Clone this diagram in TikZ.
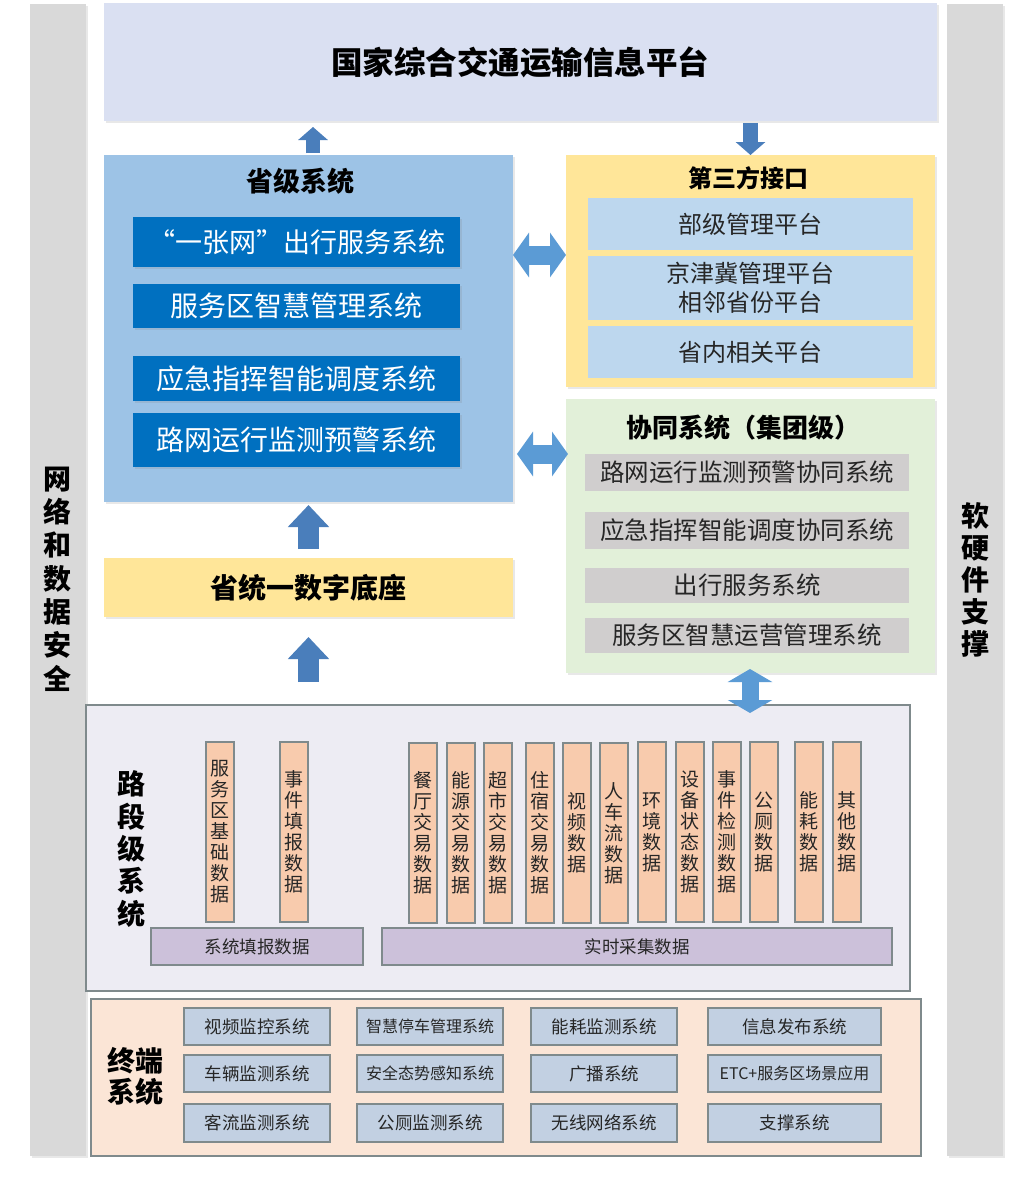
\documentclass[tikz,border=0pt]{standalone}
\usepackage{fontspec}
\setmainfont{Noto Sans CJK SC}
\usetikzlibrary{arrows.meta,shadows}
\definecolor{barGray}{HTML}{D9D9D9}
\definecolor{topFill}{HTML}{DAE0F2}
\definecolor{provBlue}{HTML}{9DC3E6}
\definecolor{darkBlue}{HTML}{0070C0}
\definecolor{yel}{HTML}{FFE699}
\definecolor{lightBlue}{HTML}{BDD7EE}
\definecolor{grn}{HTML}{E2F0D9}
\definecolor{gbox}{HTML}{D0CECE}
\definecolor{steel}{HTML}{4A7EBB}
\definecolor{dblue}{HTML}{5B9BD5}
\definecolor{roadFill}{HTML}{EDECF3}
\definecolor{orng}{HTML}{F8CBAD}
\definecolor{purp}{HTML}{CCC1DA}
\definecolor{peach}{HTML}{FBE5D6}
\definecolor{btn}{HTML}{C2D0E2}
\definecolor{edge}{HTML}{7F8A8C}
\definecolor{txt}{HTML}{262626}
\begin{document}
\begin{tikzpicture}[x=1pt,y=-1pt,
  box/.style={anchor=north west,inner sep=0pt,outer sep=0pt,align=center},
  shad/.style={drop shadow={opacity=0.18,shadow xshift=1.5pt,shadow yshift=-1.5pt}},
  ttl/.style={inner sep=0pt,align=center,text=black,font=\bfseries#1},
  dbbox/.style={box,fill=darkBlue,text=white,minimum width=327pt,font=\fontsize{28}{30}\selectfont,shad},
  lbbox/.style={box,fill=lightBlue,text=txt,minimum width=325pt,font=\fontsize{24}{29}\selectfont},
  gbbox/.style={box,fill=gbox,text=txt,minimum width=324pt,font=\fontsize{24.5}{27}\selectfont},
  colbox/.style={box,fill=orng,draw=edge,line width=1.2pt,text=txt,minimum width=28pt,minimum height=180pt,font=\fontsize{19}{21}\selectfont},
  pbar/.style={box,fill=purp,draw=edge,line width=1.2pt,text=txt,minimum height=37pt,font=\fontsize{17.5}{19}\selectfont},
  tbtn/.style={box,fill=btn,draw=edge,line width=1.4pt,text=txt,font=\fontsize{17.5}{19}\selectfont},
  uparr/.style={draw=steel,line width=#1},
  dblarr/.style={draw=dblue,line width=#1}
]
\useasboundingbox (0,0) rectangle (1030,1178);
\fill[white] (0,0) rectangle (1030,1178);

% side bars
\node[box,fill=barGray,minimum width=56pt,minimum height=1152pt,shad] (lbar) at (30,4) {};
\node[box,fill=barGray,minimum width=56pt,minimum height=1152pt,shad] (rbar) at (947,4) {};
\node[ttl={\fontsize{28}{33.3}\selectfont}] (lbarT) at (57,579) {网\\络\\和\\数\\据\\安\\全};
\node[ttl={\fontsize{28}{32}\selectfont}] (rbarT) at (975,580) {软\\硬\\件\\支\\撑};

% top platform
\node[box,fill=topFill,minimum width=833pt,minimum height=118pt,shad] (top) at (104,3) {};
\node[ttl={\fontsize{31.5}{33}\selectfont}] (topT) at (520,62) {国家综合交通运输信息平台};

% provincial system
\node[box,fill=provBlue,minimum width=409pt,minimum height=347pt,shad] (prov) at (104,155) {};
\node[ttl={\fontsize{27}{29}\selectfont}] (provT) at (300,181) {省级系统};
\node[dbbox,minimum height=50pt,font=\fontsize{27}{29}\selectfont] (db1) at (133,217) {“一张网”出行服务系统};
\node[dbbox,minimum height=44pt] (db2) at (133,284) {服务区智慧管理系统};
\node[dbbox,minimum height=45pt] (db3) at (133,356) {应急指挥智能调度系统};
\node[dbbox,minimum height=54pt] (db4) at (133,413) {路网运行监测预警系统};

% third party
\node[box,fill=yel,minimum width=369pt,minimum height=232pt,shad] (third) at (566,155) {};
\node[ttl={\fontsize{24}{26}\selectfont}] (thirdT) at (748,178) {第三方接口};
\node[lbbox,minimum height=52pt] (lb1) at (588,198) {部级管理平台};
\node[lbbox,minimum height=64pt] (lb2) at (588,256) {京津冀管理平台\\相邻省份平台};
\node[lbbox,minimum height=52pt] (lb3) at (588,326) {省内相关平台};

% cooperative system
\node[box,fill=grn,minimum width=369pt,minimum height=274pt,shad] (coop) at (566,399) {};
\node[ttl={\fontsize{26}{28}\selectfont}] (coopT) at (743,428) {协同系统（集团级）};
\node[gbbox,minimum height=37pt] (gb1) at (585,454) {路网运行监测预警协同系统};
\node[gbbox,minimum height=37pt] (gb2) at (585,512) {应急指挥智能调度协同系统};
\node[gbbox,minimum height=35pt] (gb3) at (585,568) {出行服务系统};
\node[gbbox,minimum height=35pt] (gb4) at (585,618) {服务区智慧运营管理系统};

% digital base
\node[box,fill=yel,minimum width=409pt,minimum height=59pt,shad,font=\bfseries\fontsize{28}{30}\selectfont] (base) at (104,558) {省统一数字底座};

% road section system
\node[box,fill=roadFill,draw=edge,line width=1.2pt,minimum width=824pt,minimum height=286pt] (road) at (86,705) {};
\node[ttl={\fontsize{28}{32.4}\selectfont}] (roadT) at (131,849) {路\\段\\级\\系\\统};
\node[colbox] (c1) at (206,742) {服\\务\\区\\基\\础\\数\\据};
\node[colbox] (c2) at (280,742) {事\\件\\填\\报\\数\\据};
\node[colbox] (c3) at (409,743) {餐\\厅\\交\\易\\数\\据};
\node[colbox] (c4) at (447,743) {能\\源\\交\\易\\数\\据};
\node[colbox] (c5) at (484,743) {超\\市\\交\\易\\数\\据};
\node[colbox] (c6) at (526,743) {住\\宿\\交\\易\\数\\据};
\node[colbox] (c7) at (563,743) {视\\频\\数\\据};
\node[colbox] (c8) at (600,743) {人\\车\\流\\数\\据};
\node[colbox] (c9) at (638,742) {环\\境\\数\\据};
\node[colbox] (c10) at (676,742) {设\\备\\状\\态\\数\\据};
\node[colbox] (c11) at (713,742) {事\\件\\检\\测\\数\\据};
\node[colbox] (c12) at (750,742) {公\\厕\\数\\据};
\node[colbox] (c13) at (795,742) {能\\耗\\数\\据};
\node[colbox] (c14) at (833,742) {其\\他\\数\\据};
\node[pbar,minimum width=212pt] (p1) at (151,928) {系统填报数据};
\node[pbar,minimum width=510pt] (p2) at (382,928) {实时采集数据};

% terminal system
\node[box,fill=peach,draw=edge,line width=1.2pt,minimum width=830pt,minimum height=157pt] (term) at (91,999) {};
\node[ttl={\fontsize{28}{31}\selectfont}] (termT) at (135,1076) {终端\\系统};
\node[tbtn,minimum width=146pt,minimum height=37pt] (t11) at (184,1008) {视频监控系统};
\node[tbtn,minimum width=146pt,minimum height=37pt,font=\fontsize{16}{18}\selectfont] (t12) at (357,1008) {智慧停车管理系统};
\node[tbtn,minimum width=146pt,minimum height=37pt] (t13) at (531,1008) {能耗监测系统};
\node[tbtn,minimum width=173pt,minimum height=37pt] (t14) at (708,1008) {信息发布系统};
\node[tbtn,minimum width=146pt,minimum height=37pt] (t21) at (184,1055) {车辆监测系统};
\node[tbtn,minimum width=146pt,minimum height=37pt,font=\fontsize{16}{18}\selectfont] (t22) at (357,1055) {安全态势感知系统};
\node[tbtn,minimum width=146pt,minimum height=37pt] (t23) at (531,1055) {广播系统};
\node[tbtn,minimum width=173pt,minimum height=37pt,font=\fontsize{16}{18}\selectfont] (t24) at (708,1055) {ETC+服务区场景应用};
\node[tbtn,minimum width=146pt,minimum height=38pt] (t31) at (184,1104) {客流监测系统};
\node[tbtn,minimum width=146pt,minimum height=38pt] (t32) at (357,1104) {公厕监测系统};
\node[tbtn,minimum width=146pt,minimum height=38pt] (t33) at (531,1104) {无线网络系统};
\node[tbtn,minimum width=173pt,minimum height=38pt] (t34) at (708,1104) {支撑系统};

% arrow anchor points
\coordinate (a1s) at ([xshift=4.5pt]prov.north);
\coordinate (a1e) at (a1s |- top.south);
\coordinate (a2s) at (top.south -| third.north);
\coordinate (a3e) at (base.north |- prov.south);
\coordinate (a4s) at (base.north |- road.north);
\coordinate (h1a) at (513,255);
\coordinate (h1b) at (h1a -| third.west);
\coordinate (h2a) at (prov.east |- gb1.north);
\coordinate (h2b) at (h2a -| coop.west);
\coordinate (v1a) at ([xshift=-0.5pt]coop.south);
\coordinate (v1b) at (v1a |- road.north);

% arrows
\draw[uparr=14pt,-{Triangle[length=13pt,width=29pt]},shorten <=2pt,shorten >=6pt] (a1s) -- (a1e);
\draw[uparr=15pt,-{Triangle[length=13pt,width=29pt]},shorten <=2pt] (a2s) -- (third.north);
\draw[uparr=21pt,-{Triangle[length=22pt,width=40pt]},shorten <=9pt,shorten >=3pt] (base.north) -- (a3e);
\draw[uparr=21pt,-{Triangle[length=22pt,width=40pt]},shorten <=23pt,shorten >=20pt] (a4s) -- (base.south);
\draw[dblarr=19pt,{Triangle[length=16pt,width=44pt]}-{Triangle[length=16pt,width=44pt]}] (h1a) -- (h1b);
\draw[dblarr=19pt,{Triangle[length=16pt,width=44pt]}-{Triangle[length=16pt,width=44pt]},shorten <=4pt,shorten >=-2pt] (h2a) -- (h2b);
\draw[dblarr=17pt,{Triangle[length=13pt,width=44pt]}-{Triangle[length=13pt,width=44pt]},shorten <=-4pt,shorten >=-8pt] (v1a) -- (v1b);
\end{tikzpicture}
\end{document}
